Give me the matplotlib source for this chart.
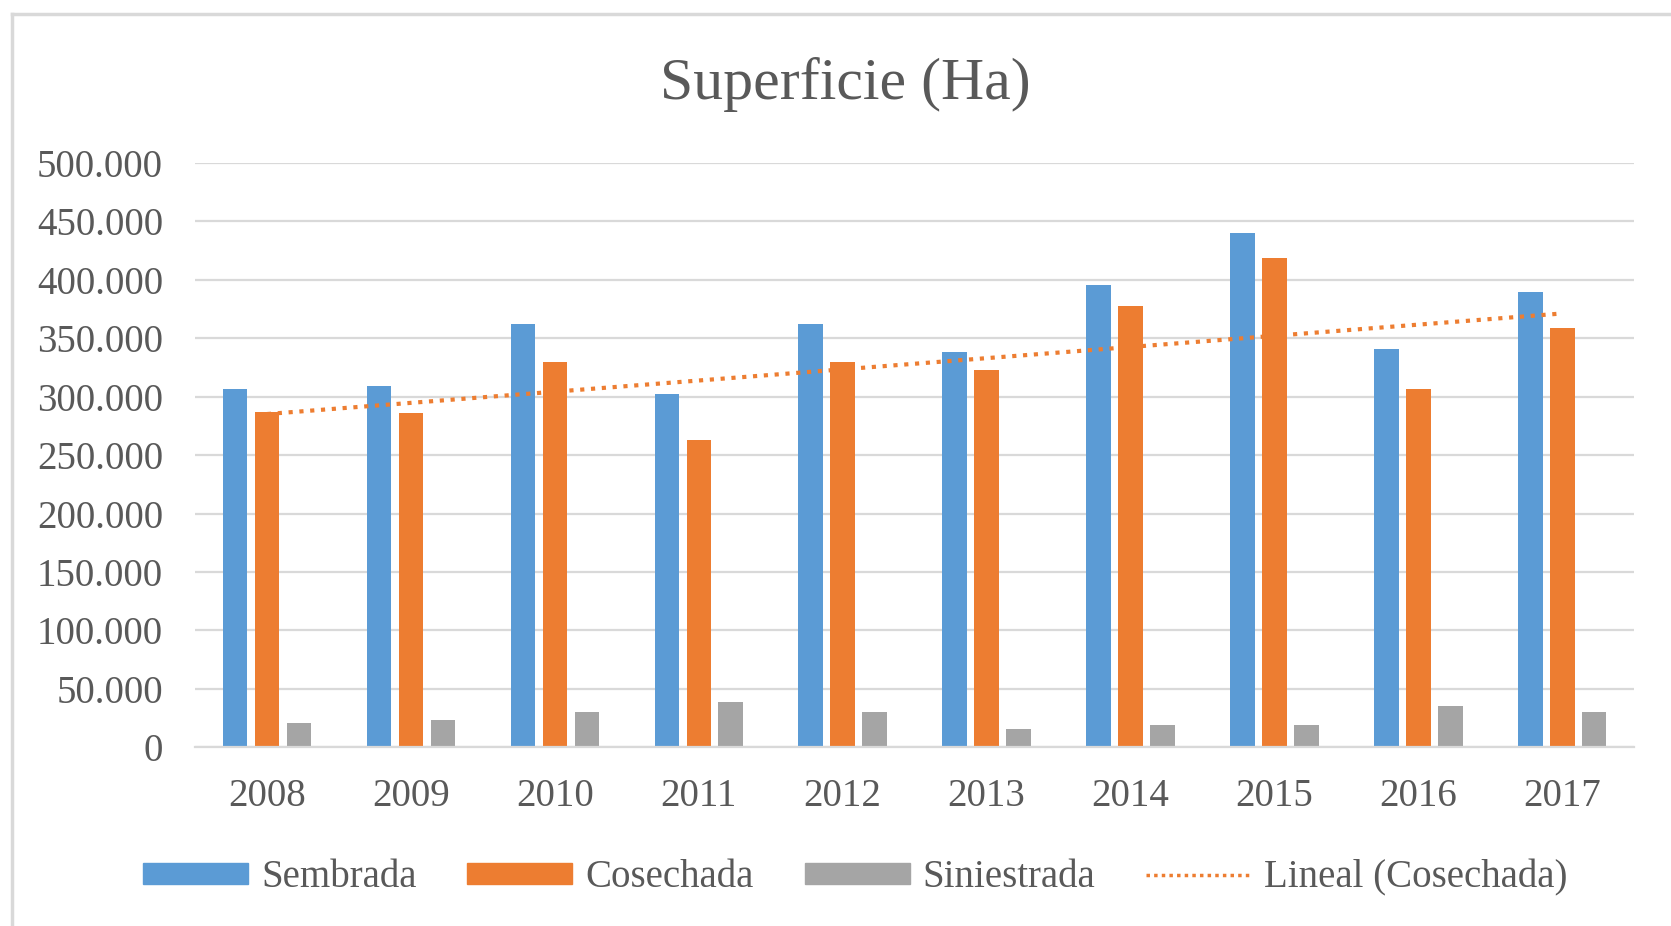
# -*- coding: utf-8 -*-
"""
Grafico de superficie sembrada, cosechada y siniestrada (Ha) 2008-2017
"""

#Import Library
import pandas as pd
import numpy as np
import matplotlib.pyplot as plt
from matplotlib.patches import Patch
from matplotlib.lines import Line2D

# Dataset superficie (Ha) por año
dataset = pd.DataFrame({
    'year': [2008, 2009, 2010, 2011, 2012, 2013, 2014, 2015, 2016, 2017],
    'sembrada': [307000, 309000, 362000, 302000, 362000, 338000, 396000, 440000, 341000, 390000],
    'cosechada': [287000, 286000, 330000, 263000, 330000, 323000, 378000, 419000, 307000, 359000],
    'siniestrada': [21000, 23000, 30000, 39000, 30000, 16000, 19000, 19000, 35000, 30000]
})

# Style seperti Excel
plt.rcParams['font.family'] = ['Liberation Serif', 'DejaVu Serif']
plt.rcParams['text.color'] = '#595959'
plt.rcParams['xtick.color'] = '#595959'
plt.rcParams['ytick.color'] = '#595959'

# Warna
c_sem = '#5B9BD5'
c_cos = '#ED7D31'
c_sin = '#A5A5A5'

# Tendencia lineal para Cosechada
x = np.arange(len(dataset))
coef = np.polyfit(x, dataset['cosechada'], 1)
dataset['lineal'] = np.polyval(coef, x)

# [1] Clustered bar chart
fig = plt.figure(figsize=(16.71, 9.26), dpi=100)
ax = fig.add_axes([0.1167, 0.193, 0.8613, 0.631])
w = 0.17 # lebar bar
step = 0.222 # jarak antar bar dalam satu grup
ax.bar(x - step, dataset['sembrada'], width=w, color=c_sem, zorder=2)
ax.bar(x, dataset['cosechada'], width=w, color=c_cos, zorder=2)
ax.bar(x + step, dataset['siniestrada'], width=w, color=c_sin, zorder=2)
ax.plot(x, dataset['lineal'], color=c_cos, linestyle=(0, (1, 1.6)), linewidth=3, zorder=3)

plt.title('Superficie (Ha)', x=0.452, loc='center', pad=46, fontsize=43, color='#595959')
ax.set_xlim(-0.5, 9.5)
ax.set_ylim(0, 500000)
ax.set_yticks(np.arange(0, 500001, 50000))
ax.set_yticklabels(['{:,.0f}'.format(v).replace(',', '.') for v in np.arange(0, 500001, 50000)])
ax.set_xticks(x)
ax.set_xticklabels(dataset['year'])
ax.tick_params(axis='both', length=0, labelsize=28)
ax.tick_params(axis='y', pad=23)
ax.tick_params(axis='x', pad=22)
ax.grid(axis='y', color='#D9D9D9', linewidth=1.6, zorder=0)
for s in ['top', 'right', 'left']:
    ax.spines[s].set_visible(False)
ax.spines['bottom'].set_color('#D9D9D9')
ax.spines['bottom'].set_linewidth(1.6)

# Legend di bawah
handles = [Patch(color=c_sem), Patch(color=c_cos), Patch(color=c_sin),
           Line2D([0], [0], color=c_cos, linestyle=(0, (1, 1.2)), linewidth=2.5)]
fig.legend(handles, ['Sembrada', 'Cosechada', 'Siniestrada', 'Lineal (Cosechada)'],
           loc='center', bbox_to_anchor=(0.512, 0.052), ncol=4, frameon=False, fontsize=28,
           handlelength=2.7, handleheight=0.42, handletextpad=0.34, columnspacing=1.3)

# Borde del grafico
fig.add_artist(Line2D([0.0072, 0.0072], [0, 0.985], color='#D9D9D9', linewidth=2.5))
fig.add_artist(Line2D([0.0072, 1], [0.985, 0.985], color='#D9D9D9', linewidth=2.5))

plt.savefig('out.png')
